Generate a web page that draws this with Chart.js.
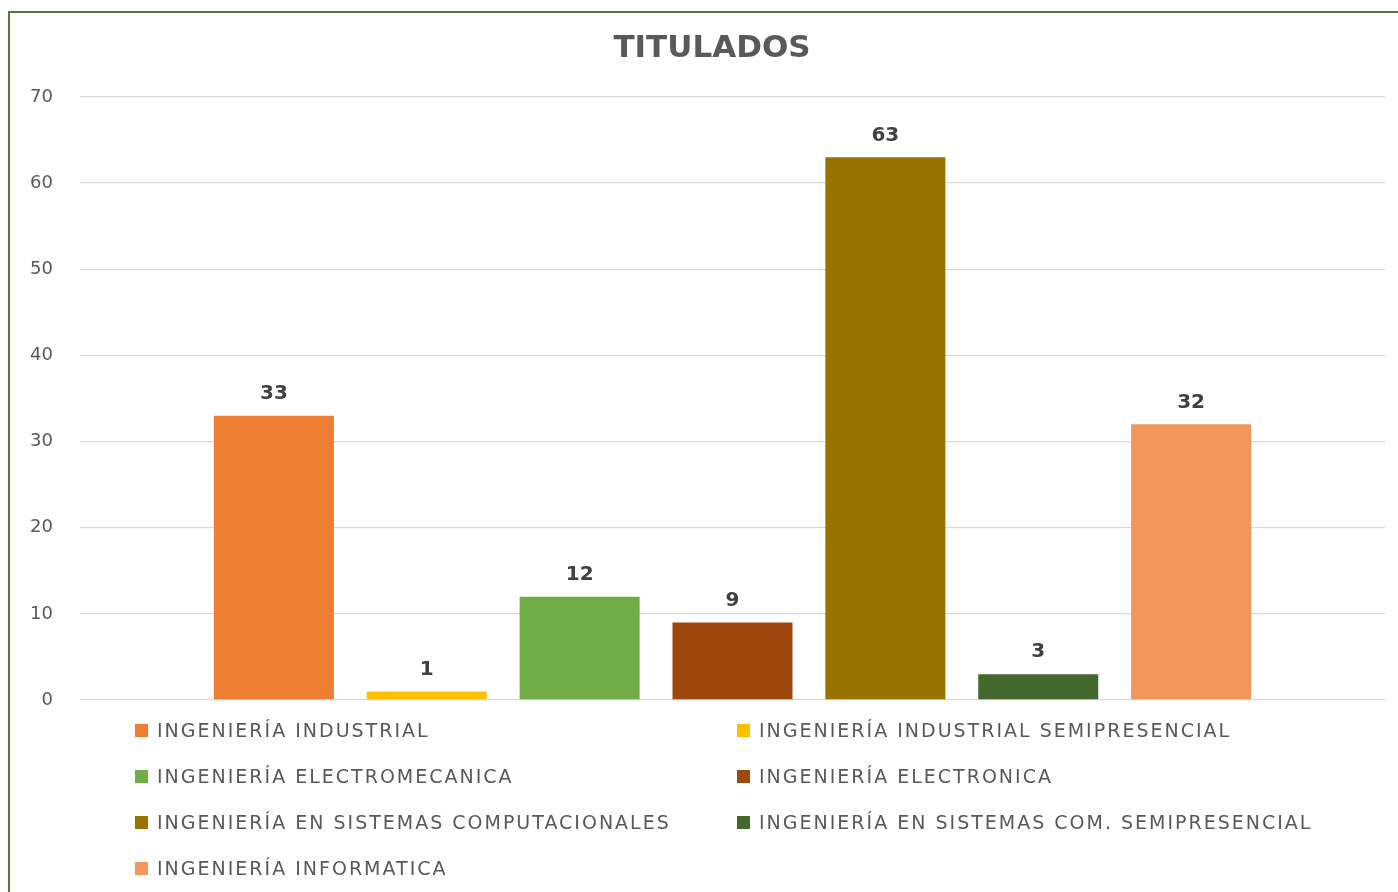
<!DOCTYPE html>
<html>
<head>
<meta charset="utf-8">
<script src="https://cdn.jsdelivr.net/npm/chart.js@4.4.1/dist/chart.umd.min.js"></script>
<style>
  html, body { margin: 0; padding: 0; background: #fff; overflow: hidden; }
  #marco { position: absolute; left: 8px; top: 11px; width: 1400px; height: 900px;
           border-left: 2px solid #52793a; border-top: 2px solid #52793a; }
  #contenedor { position: absolute; left: 0; top: 0; width: 1398px; height: 892px; }
  #leyenda { position: absolute; left: 135px; top: 707px; display: grid;
             grid-template-columns: 602px 602px; grid-auto-rows: 46px; }
  .item { display: flex; align-items: center; font-family: "DejaVu Sans", sans-serif;
          font-size: 19px; letter-spacing: 2px; color: #595959; white-space: nowrap; }
  .caja { width: 13px; height: 13px; margin-right: 9px; flex: none; }
</style>
</head>
<body>
<div id="marco"></div>
<div id="contenedor"><canvas id="grafico" width="1398" height="892"></canvas></div>
<div id="leyenda"></div>
<script>
// Datos
const titulo = "TITULADOS";
const carreras = [
    "INGENIERÍA INDUSTRIAL",
    "INGENIERÍA INDUSTRIAL SEMIPRESENCIAL",
    "INGENIERÍA ELECTROMECANICA",
    "INGENIERÍA ELECTRONICA",
    "INGENIERÍA EN SISTEMAS COMPUTACIONALES",
    "INGENIERÍA EN SISTEMAS COM. SEMIPRESENCIAL",
    "INGENIERÍA INFORMATICA"
];
const titulados = [33, 1, 12, 9, 63, 3, 32];
const colores = ["#ED7D31", "#FFC000", "#70AD47", "#9E480E", "#997300", "#43682B", "#F1975A"];
const marcasY = [0, 10, 20, 30, 40, 50, 60, 70];

const fuente = "'DejaVu Sans', sans-serif";

// una sola categoria, una serie por carrera
const datasets = carreras.map((c, i) => ({
    label: c,
    data: [titulados[i]],
    backgroundColor: colores[i],
    categoryPercentage: 0.82,
    barPercentage: 0.785
}));

// etiquetas de valor encima de cada barra + titulo
const etiquetas = {
    id: "etiquetas",
    afterDatasetsDraw(chart) {
        const ctx = chart.ctx;
        ctx.save();
        ctx.font = "bold 20px " + fuente;
        ctx.fillStyle = "#404040";
        ctx.textAlign = "center";
        ctx.textBaseline = "middle";
        chart.data.datasets.forEach((ds, i) => {
            const meta = chart.getDatasetMeta(i);
            meta.data.forEach((bar, j) => {
                ctx.fillText(ds.data[j], bar.x, bar.y - 22);
            });
        });
        // titulo centrado sobre el marco
        ctx.font = "bold 31px " + fuente;
        ctx.fillStyle = "#595959";
        ctx.fillText(titulo, chart.width / 2 + 13, 49);
        ctx.restore();
    }
};

const grafico = new Chart(document.getElementById("grafico"), {
    type: "bar",
    data: { labels: [titulo], datasets },
    options: {
        responsive: false,
        animation: false,
        layout: { padding: { left: 0, right: 13, top: 97, bottom: 192 } },
        plugins: {
            legend: { display: false },
            tooltip: { enabled: false }
        },
        scales: {
            x: { display: false },
            y: {
                min: 0,
                max: 70,
                afterBuildTicks: s => { s.ticks = marcasY.map(v => ({ value: v })); },
                afterFit: s => { s.width = 80; },
                border: { display: false },
                grid: { color: "#d9d9d9", lineWidth: 1.3, drawTicks: false },
                ticks: { padding: 27, color: "#595959", font: { family: fuente, size: 18 } }
            }
        }
    },
    plugins: [etiquetas]
});

// Leyenda en dos columnas
const leyenda = document.getElementById("leyenda");
carreras.forEach((c, i) => {
    const div = document.createElement("div");
    div.className = "item";
    div.innerHTML = `<span class="caja" style="background:${colores[i]}"></span><span>${c}</span>`;
    leyenda.appendChild(div);
});
</script>
</body>
</html>
